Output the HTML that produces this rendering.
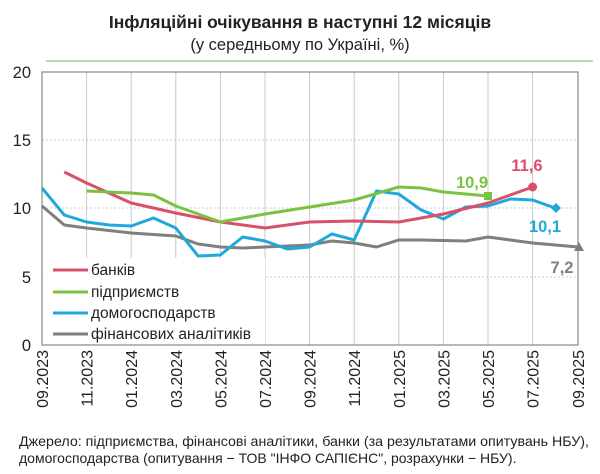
<!DOCTYPE html>
<html><head><meta charset="utf-8"><style>
body{margin:0;background:#fff;}
svg{display:block;font-family:"Liberation Sans",sans-serif;}
</style></head><body>
<svg width="600" height="474" viewBox="0 0 600 474" xmlns="http://www.w3.org/2000/svg">
<text x="300" y="28" text-anchor="middle" font-size="17.5" font-weight="bold" fill="#222">Інфляційні очікування в наступні 12 місяців</text>
<text x="300" y="50" text-anchor="middle" font-size="16.5" fill="#222">(у середньому по Україні, %)</text>
<line x1="46" y1="61" x2="593" y2="61" stroke="#a9d18e" stroke-width="1.5"/>
<g stroke="#ccc" stroke-width="1" stroke-dasharray="2,2">
<line x1="42" y1="140" x2="578" y2="140"/><line x1="42" y1="208" x2="578" y2="208"/><line x1="42" y1="277" x2="578" y2="277"/>
</g>
<g stroke="#c8c8c8" stroke-width="1">
<line x1="86.6" y1="72" x2="86.6" y2="345"/><line x1="131.2" y1="72" x2="131.2" y2="345"/><line x1="175.8" y1="72" x2="175.8" y2="345"/><line x1="220.4" y1="72" x2="220.4" y2="345"/><line x1="265" y1="72" x2="265" y2="345"/><line x1="309.6" y1="72" x2="309.6" y2="345"/><line x1="354.2" y1="72" x2="354.2" y2="345"/><line x1="398.8" y1="72" x2="398.8" y2="345"/><line x1="443.4" y1="72" x2="443.4" y2="345"/><line x1="488" y1="72" x2="488" y2="345"/><line x1="532.6" y1="72" x2="532.6" y2="345"/>
</g>
<rect x="42" y="72" width="536" height="273" fill="none" stroke="#888" stroke-width="1.2"/>
<g font-size="16.5" fill="#222" text-anchor="end">
<text x="31" y="78">20</text><text x="31" y="146">15</text><text x="31" y="214">10</text><text x="31" y="283">5</text><text x="31" y="351">0</text>
</g>
<g fill="none" stroke-width="3" stroke-linejoin="round">
<polyline stroke="#7f7f7f" points="42,206 64.3,225 86.6,228 131.2,233 175.8,236 198.1,244 220.4,247 242.7,248 265,247 309.6,245 331.9,241 354.2,243 376.5,247 398.8,240 421.1,240 465.7,241 488,237 532.6,243 578,247"/>
<polyline stroke="#1fa9db" points="42,188 64.3,215 86.6,222 108.9,225 131.2,226 153.5,218 175.8,228 198.1,256 220.4,255 242.7,237 265,241 287.3,249 309.6,247 331.9,234 354.2,240 376.5,191 398.8,194 421.1,210 443.4,219 465.7,207 488,206 510.3,199 532.6,200 555,208"/>
<polyline stroke="#d9506a" points="64.3,172 86.6,183 131.2,203 175.8,213 220.4,222 265,228 309.6,222 354.2,221 398.8,222 443.4,214 488,203 532.6,187"/>
<polyline stroke="#7cc242" points="86.6,191 131.2,193 153.5,195 175.8,206 220.4,222 265,214 309.6,207 354.2,200 398.8,187 421.1,188 443.4,192 488,196"/>
</g>
<rect x="484" y="192" width="8" height="8" fill="#7cc242"/>
<circle cx="532.6" cy="187" r="4.5" fill="#d9506a"/>
<polygon points="556,203 561,208 556,213 551,208" fill="#1fa9db"/>
<polygon points="579,242 584,251 574,251" fill="#7f7f7f"/>
<g font-size="16.5" font-weight="bold">
<text x="472" y="188" text-anchor="middle" fill="#7cc242">10,9</text>
<text x="527" y="171" text-anchor="middle" fill="#d9506a">11,6</text>
<text x="545" y="232" text-anchor="middle" fill="#1fa9db">10,1</text>
<text x="562" y="273" text-anchor="middle" fill="#7f7f7f">7,2</text>
</g>
<rect x="43" y="258" width="222" height="86" fill="#fff"/>
<g stroke-width="3">
<line x1="53" y1="270" x2="88" y2="270" stroke="#d9506a"/>
<line x1="53" y1="292" x2="88" y2="292" stroke="#7cc242"/>
<line x1="53" y1="313" x2="88" y2="313" stroke="#1fa9db"/>
<line x1="53" y1="334" x2="88" y2="334" stroke="#7f7f7f"/>
</g>
<g font-size="15.5" fill="#222">
<text x="91" y="275">банків</text>
<text x="91" y="297">підприємств</text>
<text x="91" y="318">домогосподарств</text>
<text x="91" y="339">фінансових аналітиків</text>
</g>
<g font-size="16" fill="#222" text-anchor="end">
<text transform="translate(48,350) rotate(-90)">09.2023</text>
<text transform="translate(92.6,350) rotate(-90)">11.2023</text>
<text transform="translate(137.2,350) rotate(-90)">01.2024</text>
<text transform="translate(181.8,350) rotate(-90)">03.2024</text>
<text transform="translate(226.4,350) rotate(-90)">05.2024</text>
<text transform="translate(271,350) rotate(-90)">07.2024</text>
<text transform="translate(315.6,350) rotate(-90)">09.2024</text>
<text transform="translate(360.2,350) rotate(-90)">11.2024</text>
<text transform="translate(404.8,350) rotate(-90)">01.2025</text>
<text transform="translate(449.4,350) rotate(-90)">03.2025</text>
<text transform="translate(494,350) rotate(-90)">05.2025</text>
<text transform="translate(538.6,350) rotate(-90)">07.2025</text>
<text transform="translate(584,350) rotate(-90)">09.2025</text>
</g>
<g font-size="14" fill="#222">
<text x="19" y="446" textLength="570" lengthAdjust="spacingAndGlyphs">Джерело: підприємства, фінансові аналітики, банки (за результатами опитувань НБУ),</text>
<text x="19" y="463">домогосподарства (опитування − ТОВ "ІНФО САПІЄНС", розрахунки − НБУ).</text>
</g>
</svg>
</body></html>
